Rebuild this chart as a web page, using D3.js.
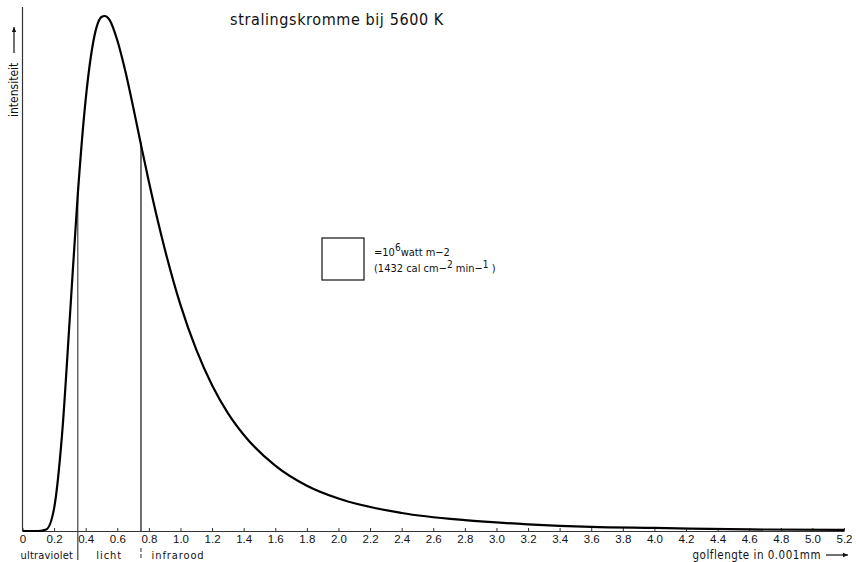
<!DOCTYPE html>
<html>
<head>
<meta charset="utf-8">
<script src="https://cdn.jsdelivr.net/npm/d3@7"></script>
<style>
  body { margin: 0; background: #fff; }
  svg { font-family: "DejaVu Sans Condensed", "DejaVu Sans", sans-serif; }
</style>
</head>
<body>
<svg width="856" height="562"></svg>
<script>
// wavelength in 0.001 mm
var wavelengths = [0, 0.1, 0.15, 0.2, 0.25, 0.3, 0.35, 0.4, 0.45, 0.5, 0.52, 0.55, 0.6, 0.65, 0.7, 0.75, 0.8, 0.9, 1.0, 1.1, 1.2, 1.3, 1.4, 1.6, 1.8, 2.0, 2.4, 2.8, 3.2, 3.6, 4.0, 4.6, 5.2];
// relative intensity (peak = 100)
var intensity = [0, 0, 0.3, 4.4, 18.6, 41.6, 65.4, 83.8, 95.3, 99.8, 100, 99.3, 95.3, 89.4, 82.4, 75.0, 67.8, 54.8, 43.9, 35.2, 28.3, 22.9, 18.7, 12.7, 8.8, 6.3, 3.5, 2.1, 1.3, 0.8, 0.6, 0.3, 0.2];

var tickValues = [0, 0.2, 0.4, 0.6, 0.8, 1.0, 1.2, 1.4, 1.6, 1.8, 2.0, 2.2, 2.4, 2.6, 2.8, 3.0, 3.2, 3.4, 3.6, 3.8, 4.0, 4.2, 4.4, 4.6, 4.8, 5.0, 5.2];
var tickLabels = ["0", "0.2", "0.4", "0.6", "0.8", "1.0", "1.2", "1.4", "1.6", "1.8", "2.0", "2.2", "2.4", "2.6", "2.8", "3.0", "3.2", "3.4", "3.6", "3.8", "4.0", "4.2", "4.4", "4.6", "4.8", "5.0", "5.2"];

// band borders and band names
var bandBorders = [0.35, 0.75];
var bandNames = ["ultraviolet", "licht", "infrarood"];
var bandNameX = [0.0, 0.48, 0.83];

var data = wavelengths.map(function(w, i) { return { w: w, v: intensity[i] }; });

var svg = d3.select("svg");

var x = d3.scaleLinear().domain([0, 5.2]).range([22.5, 844]);
var y = d3.scaleLinear().domain([0, 100]).range([531, 16]);

// x axis, small ticks pointing up
var xAxis = d3.axisBottom(x)
    .tickValues(tickValues)
    .tickFormat(function(d, i) { return tickLabels[i]; })
    .tickSizeInner(-3)
    .tickSizeOuter(0)
    .tickPadding(4);

var gx = svg.append("g")
    .attr("transform", "translate(0," + y(0) + ")")
    .call(xAxis);
gx.select(".domain").attr("stroke", "#333").attr("stroke-width", 1.2);
gx.selectAll(".tick line").attr("stroke", "#333");
gx.selectAll(".tick text")
    .attr("font-size", 11.5)
    .attr("fill", "#111");

// y axis: bare line
svg.append("line")
    .attr("x1", x(0)).attr("x2", x(0))
    .attr("y1", 7).attr("y2", y(0))
    .attr("stroke", "#333")
    .attr("stroke-width", 1.2);

svg.append("text")
    .attr("transform", "translate(18,117) rotate(-90)")
    .attr("font-size", 12)
    .attr("fill", "#111")
    .text("intensiteit");

function arrow(x1, y1, x2, y2) {
    var a = Math.atan2(y2 - y1, x2 - x1), s = 5;
    svg.append("line")
        .attr("x1", x1).attr("y1", y1).attr("x2", x2).attr("y2", y2)
        .attr("stroke", "#111").attr("stroke-width", 1.2);
    svg.append("path")
        .attr("d", "M" + x2 + "," + y2 +
            "L" + (x2 - s * Math.cos(a) + 2.2 * Math.sin(a)) + "," + (y2 - s * Math.sin(a) - 2.2 * Math.cos(a)) +
            "L" + (x2 - s * Math.cos(a) - 2.2 * Math.sin(a)) + "," + (y2 - s * Math.sin(a) + 2.2 * Math.cos(a)) + "Z")
        .attr("fill", "#111");
}
arrow(14, 53, 14, 27);

// band borders
svg.append("line")
    .attr("x1", x(bandBorders[0])).attr("x2", x(bandBorders[0]))
    .attr("y1", y(66)).attr("y2", 560)
    .attr("stroke", "#444").attr("stroke-width", 1.2);
svg.append("line")
    .attr("x1", x(bandBorders[1])).attr("x2", x(bandBorders[1]))
    .attr("y1", y(75.5)).attr("y2", y(0))
    .attr("stroke", "#222").attr("stroke-width", 1.3);
svg.append("line")
    .attr("x1", x(bandBorders[1])).attr("x2", x(bandBorders[1]))
    .attr("y1", 548).attr("y2", 558)
    .attr("stroke", "#444").attr("stroke-width", 1.1)
    .attr("stroke-dasharray", "4,2");

svg.selectAll(".band")
    .data(bandNames)
    .enter().append("text")
    .attr("class", "band")
    .attr("x", function(d, i) { return x(bandNameX[i]) - 2; })
    .attr("y", 559)
    .attr("font-size", 11)
    .attr("letter-spacing", function(d, i) { return i === 0 ? 0.2 : 0.9; })
    .attr("fill", "#111")
    .text(function(d) { return d; });

svg.append("text")
    .attr("x", 821)
    .attr("y", 559)
    .attr("text-anchor", "end")
    .attr("font-size", 11.5)
    .attr("letter-spacing", 0.5)
    .attr("fill", "#111")
    .text("golflengte in 0.001mm");
arrow(826, 555, 848, 555);

// radiation curve
var line = d3.line()
    .x(function(d) { return x(d.w); })
    .y(function(d) { return y(d.v); })
    .curve(d3.curveMonotoneX);

svg.append("path")
    .datum(data)
    .attr("fill", "none")
    .attr("stroke", "#000")
    .attr("stroke-width", 2.2)
    .attr("stroke-linejoin", "round")
    .attr("d", line);

// title
svg.append("text")
    .attr("x", 337)
    .attr("y", 25)
    .attr("text-anchor", "middle")
    .attr("font-size", 16)
    .attr("letter-spacing", 0.6)
    .attr("fill", "#111")
    .text("stralingskromme  bij 5600 K");

// unit square
svg.append("rect")
    .attr("x", 322).attr("y", 238)
    .attr("width", 42).attr("height", 42)
    .attr("fill", "none")
    .attr("stroke", "#111")
    .attr("stroke-width", 1.2);

var t1 = svg.append("text").attr("x", 374).attr("y", 256).attr("font-size", 11).attr("fill", "#111");
t1.append("tspan").text("=10");
t1.append("tspan").attr("dy", -5).attr("font-size", 10).text("6");
t1.append("tspan").attr("dy", 5).text("watt  m\u22122");

var t2 = svg.append("text").attr("x", 374).attr("y", 272).attr("font-size", 11).attr("fill", "#111");
t2.append("tspan").text("(1432 cal cm\u2212");
t2.append("tspan").attr("dy", -4).attr("font-size", 10).text("2");
t2.append("tspan").attr("dy", 4).text(" min\u2212");
t2.append("tspan").attr("dy", -4).attr("font-size", 10).text("1");
t2.append("tspan").attr("dy", 4).text(" )");
</script>
</body>
</html>
